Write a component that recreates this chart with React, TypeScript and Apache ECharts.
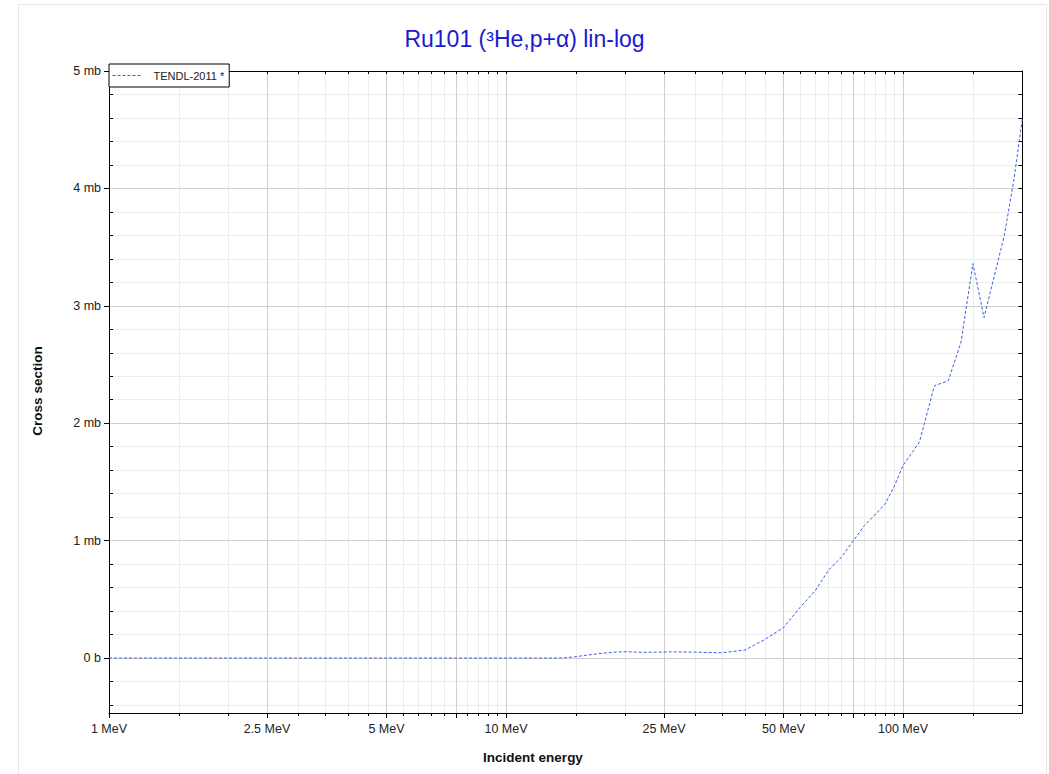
import React, { useEffect, useRef } from 'react';
import * as echarts from 'echarts';

// Incident energy (MeV)
const energies = [
  1, 2, 3, 4, 5, 6, 7, 8, 9, 10, 11, 12, 13, 14, 15, 16, 17, 18, 19, 20,
  22, 24, 26, 28, 30, 35, 40, 45, 50, 55, 60, 65, 70, 75, 80, 85, 90, 95,
  100, 110, 120, 130, 140, 150, 160, 170, 180, 190, 200,
];
// Cross section (mb)
const crossSection = [
  0, 0, 0, 0, 0, 0, 0, 0, 0, 0, 0, 0, 0, 0.001, 0.012, 0.025, 0.036, 0.045, 0.051, 0.054,
  0.049, 0.05, 0.053, 0.052, 0.05, 0.045, 0.068, 0.16, 0.26, 0.43, 0.57, 0.75, 0.86, 1.0, 1.13, 1.22, 1.31, 1.46,
  1.64, 1.84, 2.32, 2.36, 2.69, 3.36, 2.9, 3.26, 3.6, 4.06, 4.6,
];

const seriesName = 'TENDL-2011 *';
const titleText = 'Ru101 (\u00B3He,p+\u03B1) lin-log';

const xLabelValues = [1, 2.5, 5, 10, 25, 50, 100];
const xMajorValues = [1, 2.5, 5, 7.5, 10, 25, 50, 75, 100];
const xMinorValues = [
  1.5, 2, 3, 3.5, 4, 4.5, 5.5, 6, 6.5, 7, 8, 8.5, 9, 9.5,
  15, 20, 30, 35, 40, 45, 55, 60, 65, 70, 80, 85, 90, 95, 150,
];
const yLabelValues = [0, 1, 2, 3, 4, 5];
const yMinorValues = [
  -0.4, -0.2, 0.2, 0.4, 0.6, 0.8, 1.2, 1.4, 1.6, 1.8, 2.2, 2.4, 2.6, 2.8,
  3.2, 3.4, 3.6, 3.8, 4.2, 4.4, 4.6, 4.8,
];
const yAllValues = [
  -0.4, -0.2, 0, 0.2, 0.4, 0.6, 0.8, 1, 1.2, 1.4, 1.6, 1.8, 2, 2.2, 2.4, 2.6, 2.8,
  3, 3.2, 3.4, 3.6, 3.8, 4, 4.2, 4.4, 4.6, 4.8, 5,
];

const FONT = 'Liberation Sans, Arial, Helvetica, sans-serif';
const X_MIN = 1;
const X_MAX = 200;
const Y_MIN = -0.468;
const Y_MAX = 5;
const LINE_COLOR = '#3a5ee3';

export default function App() {
  const ref = useRef<HTMLDivElement>(null);

  useEffect(() => {
    if (!ref.current) return;
    const chart = echarts.init(ref.current, null, { renderer: 'svg' });
    const gridRect = { left: 109, right: 26.5, top: 71, bottom: 61, containLabel: false };
    const xBase = { type: 'log', logBase: 10, min: X_MIN, max: X_MAX };
    const yBase = { type: 'value', min: Y_MIN, max: Y_MAX };
    const black = { color: '#000', width: 1 };

    const option: any = {
      animation: false,
      backgroundColor: '#fff',
      textStyle: { fontFamily: FONT },
      title: {
        text: titleText,
        left: 'center',
        top: 22,
        textStyle: { fontFamily: FONT, fontSize: 23, fontWeight: 'normal', color: '#1a1ad0' },
      },
      legend: {
        data: [seriesName],
        left: 109,
        top: 64,
        padding: [6, 5, 6, 3],
        itemWidth: 29,
        itemHeight: 13,
        itemGap: 0,
        borderColor: '#000',
        borderWidth: 1,
        borderRadius: 0,
        backgroundColor: '#fff',
        itemStyle: { opacity: 0 },
        lineStyle: { color: LINE_COLOR, width: 1, type: [3, 2] },
        textStyle: { fontFamily: FONT, fontSize: 11, color: '#222', padding: [0, 0, 0, 7] },
        z: 10,
      },
      grid: [gridRect, gridRect],
      xAxis: [
        {
          ...xBase,
          gridIndex: 0,
          position: 'bottom',
          z: 2,
          axisLine: { show: true, onZero: false, lineStyle: black },
          axisTick: { show: true, customValues: xMajorValues, inside: false, length: 5, lineStyle: black },
          axisLabel: {
            customValues: xLabelValues,
            formatter: (v: number) => `${v} MeV`,
            fontFamily: FONT,
            fontSize: 12.5,
            color: '#222',
            margin: 9,
          },
          splitLine: { show: true, lineStyle: { color: '#cfcfcf', width: 1 } },
        },
        {
          ...xBase,
          gridIndex: 0,
          position: 'top',
          z: 2,
          axisLine: { show: true, onZero: false, lineStyle: black },
          axisTick: { show: true, customValues: [...xMajorValues, ...xMinorValues], inside: true, length: 3, lineStyle: black },
          axisLabel: { show: false },
          splitLine: { show: false },
        },
        {
          ...xBase,
          gridIndex: 1,
          position: 'bottom',
          z: 1,
          axisLine: { show: false, onZero: false },
          axisTick: { show: true, customValues: xMinorValues, inside: false, length: 3, lineStyle: black },
          axisLabel: { show: false },
          splitLine: { show: true, lineStyle: { color: '#ececec', width: 1 } },
        },
      ],
      yAxis: [
        {
          ...yBase,
          gridIndex: 0,
          position: 'left',
          z: 2,
          axisLine: { show: true, onZero: false, lineStyle: black },
          axisTick: { show: true, customValues: yLabelValues, inside: false, length: 5, lineStyle: black },
          axisLabel: {
            customValues: yLabelValues,
            formatter: (v: number) => (v === 0 ? '0 b' : `${v} mb`),
            fontFamily: FONT,
            fontSize: 12.5,
            color: '#222',
            margin: 8,
          },
          splitLine: { show: true, lineStyle: { color: '#cfcfcf', width: 1 } },
        },
        {
          ...yBase,
          gridIndex: 0,
          position: 'right',
          z: 2,
          axisLine: { show: true, onZero: false, lineStyle: black },
          axisTick: { show: true, customValues: yAllValues, inside: true, length: 4, lineStyle: black },
          axisLabel: { show: false },
          splitLine: { show: false },
        },
        {
          ...yBase,
          gridIndex: 1,
          position: 'left',
          z: 1,
          axisLine: { show: false, onZero: false },
          axisTick: { show: true, customValues: yMinorValues, inside: true, length: 4, lineStyle: black },
          axisLabel: { show: false },
          splitLine: { show: true, lineStyle: { color: '#ececec', width: 1 } },
        },
      ],
      series: [
        {
          name: seriesName,
          type: 'line',
          xAxisIndex: 0,
          yAxisIndex: 0,
          data: energies.map((e, i) => [e, crossSection[i]]),
          showSymbol: false,
          symbol: 'none',
          smooth: false,
          lineStyle: { color: LINE_COLOR, width: 1, type: [3, 2] },
          itemStyle: { color: LINE_COLOR },
          z: 5,
        },
      ],
      graphic: [
        {
          type: 'rect',
          z: -10,
          silent: true,
          shape: { x: 18.5, y: 4.5, width: 1028, height: 800 },
          style: { fill: 'none', stroke: '#e6e6e6', lineWidth: 1 },
        },
        {
          type: 'text',
          x: 533,
          y: 757,
          style: {
            text: 'Incident energy',
            font: `bold 13.5px ${FONT}`,
            fill: '#111',
            align: 'center',
            verticalAlign: 'middle',
            textAlign: 'center',
            textVerticalAlign: 'middle',
          },
        },
        {
          type: 'text',
          x: 37,
          y: 391,
          rotation: Math.PI / 2,
          style: {
            text: 'Cross section',
            font: `bold 13.5px ${FONT}`,
            fill: '#111',
            align: 'center',
            verticalAlign: 'middle',
            textAlign: 'center',
            textVerticalAlign: 'middle',
          },
        },
      ],
    };

    chart.setOption(option);
    return () => chart.dispose();
  }, []);

  return (
    <div
      ref={ref}
      style={{ position: 'fixed', left: 0, top: 0, width: 1049, height: 774, background: '#fff' }}
    />
  );
}
